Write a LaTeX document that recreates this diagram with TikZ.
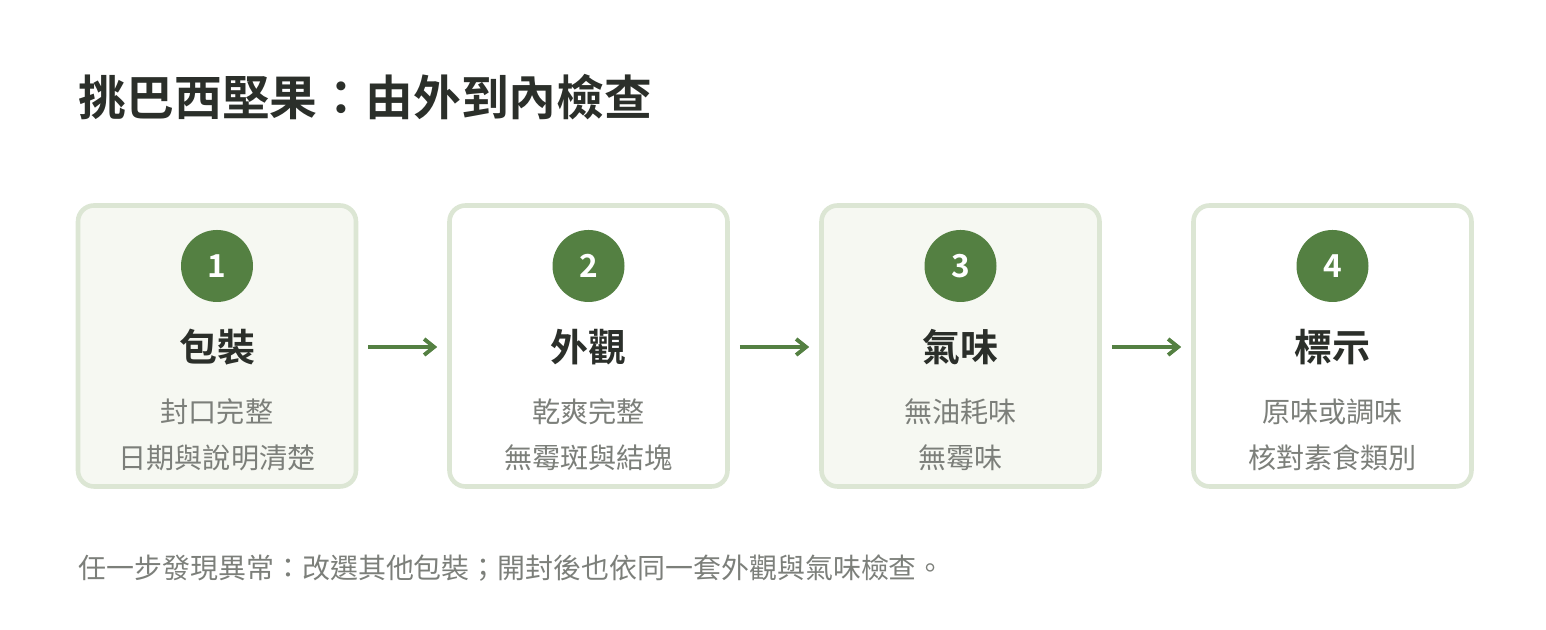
\documentclass[tikz,border=0pt]{standalone}
\usepackage{fontspec}
\usepackage{xcolor}
\usetikzlibrary{positioning, arrows.meta}
\newfontfamily\cjk{Noto Sans CJK TC}
\newfontfamily\cjkb{Noto Sans CJK TC Bold}
\definecolor{leaf}{HTML}{548042}
\definecolor{edge}{HTML}{DCE6D4}
\definecolor{pale}{HTML}{F6F8F2}
\definecolor{ink}{HTML}{2B2F2A}
\definecolor{muted}{HTML}{7C7F7A}
\tikzset{
  card/.style={draw=edge, line width=1.3pt, rounded corners=0.16cm,
    minimum width=2.78cm, minimum height=2.81cm},
  badge/.style={circle, fill=leaf, minimum size=0.72cm, inner sep=0pt,
    text=white, font=\cjkb\fontsize{9}{9}\selectfont},
  head/.style={text=ink, font=\cjkb\fontsize{10.8}{12}\selectfont},
  note/.style={text=muted, align=center, font=\cjk\fontsize{8}{13.1}\selectfont},
  flow/.style={-{Straight Barb[length=0.1cm, width=0.16cm]}, draw=leaf, line width=1.1pt}
}
\begin{document}
\begin{tikzpicture}[x=1cm, y=1cm]
\useasboundingbox (0,0) rectangle (15.46,6.3);
\node[anchor=west, text=ink, font=\cjkb\fontsize{13.6}{15}\selectfont, inner sep=0pt]
  (title) at (0.78,5.33) {挑巴西堅果：由外到內檢查};

% steps
\node[card, fill=pale]  (s1) at (2.17,2.84) {};
\node[card, fill=white] (s2) at (5.885,2.84) {};
\node[card, fill=pale]  (s3) at (9.605,2.84) {};
\node[card, fill=white] (s4) at (13.325,2.84) {};

\foreach \i/\h/\a/\b in {1/包裝/封口完整/日期與說明清楚,
                         2/外觀/乾爽完整/無霉斑與結塊,
                         3/氣味/無油耗味/無霉味,
                         4/標示/原味或調味/核對素食類別} {
  \node[badge] (n\i) at ([yshift=0.8cm]s\i.center) {\i};
  \node[head]  (h\i) at ([yshift=-0.01cm]s\i.center) {\h};
  \node[note]  (t\i) at ([yshift=-0.89cm]s\i.center) {\a\\\b};
}

\draw[flow] ([xshift=0.1cm]s1.east |- h1) -- ([xshift=-0.1cm]s2.west |- h2);
\draw[flow] ([xshift=0.1cm]s2.east |- h2) -- ([xshift=-0.1cm]s3.west |- h3);
\draw[flow] ([xshift=0.1cm]s3.east |- h3) -- ([xshift=-0.1cm]s4.west |- h4);

\node[anchor=west, text=muted, font=\cjk\fontsize{7.95}{9}\selectfont, inner sep=0pt]
  (foot) at (0.78,0.62) {任一步發現異常：改選其他包裝；開封後也依同一套外觀與氣味檢查。};
\end{tikzpicture}
\end{document}
